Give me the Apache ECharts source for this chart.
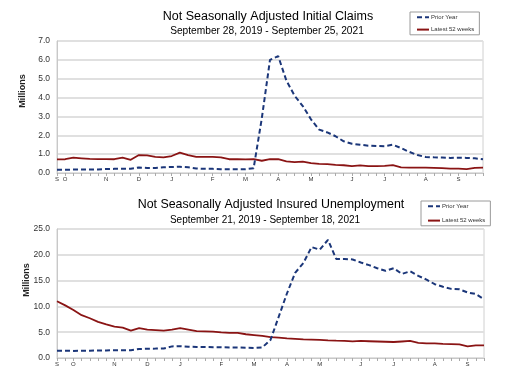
<!DOCTYPE html>
<html>
<head>
<meta charset="utf-8">
<script src="https://cdn.jsdelivr.net/npm/echarts@6/dist/echarts.min.js"></script>
<style>
html,body{margin:0;padding:0;background:#fff;}
#c{width:512px;height:386px;}
</style>
</head>
<body>
<div id="c"></div>
<script>
// ---- Data ----
// Initial claims (millions), 53 weekly points
var claimsPriorYear = [0.17,0.17,0.18,0.18,0.18,0.19,0.21,0.22,0.22,0.22,0.29,0.27,0.27,0.30,0.32,0.33,0.30,0.24,0.22,0.22,0.20,0.20,0.20,0.20,0.25,2.90,6.00,6.20,4.90,4.10,3.55,2.85,2.30,2.15,1.95,1.68,1.55,1.50,1.45,1.43,1.42,1.50,1.32,1.12,0.95,0.85,0.83,0.82,0.80,0.81,0.80,0.78,0.73];
var claimsLatest = [0.72,0.73,0.81,0.78,0.75,0.74,0.74,0.73,0.81,0.70,0.95,0.93,0.86,0.83,0.90,1.08,0.95,0.86,0.86,0.86,0.83,0.73,0.73,0.72,0.73,0.65,0.73,0.73,0.62,0.58,0.60,0.52,0.48,0.47,0.43,0.41,0.36,0.40,0.36,0.36,0.38,0.42,0.30,0.29,0.29,0.28,0.27,0.26,0.23,0.23,0.21,0.27,0.28];
// Insured unemployment (millions), 53 weekly points
var insuredPriorYear = [1.40,1.40,1.38,1.40,1.42,1.45,1.47,1.50,1.50,1.50,1.75,1.80,1.82,1.85,2.25,2.30,2.20,2.15,2.15,2.10,2.10,2.05,2.05,2.00,1.95,2.05,3.50,8.00,12.50,16.50,18.40,21.50,21.00,22.90,19.20,19.20,19.10,18.50,18.00,17.40,16.90,17.40,16.30,16.80,15.90,15.20,14.30,13.80,13.40,13.30,12.70,12.40,11.40];
var insuredLatest = [11.0,10.2,9.3,8.3,7.7,7.0,6.5,6.1,5.9,5.3,5.8,5.5,5.4,5.3,5.5,5.8,5.5,5.2,5.15,5.1,4.95,4.85,4.85,4.6,4.45,4.3,4.05,3.95,3.8,3.7,3.6,3.55,3.5,3.42,3.35,3.3,3.22,3.3,3.25,3.2,3.15,3.1,3.2,3.3,2.95,2.85,2.85,2.75,2.7,2.65,2.25,2.45,2.45];

// Categories (week ending dates)
function weeks(startY, startM, startD, n){
  var out = [];
  for (var i=0;i<n;i++){
    var d = new Date(Date.UTC(startY, startM-1, startD + 7*i));
    out.push(d.toISOString().slice(0,10));
  }
  return out;
}
var claimsWeeks = weeks(2019, 9, 28, 53);
var insuredWeeks = weeks(2019, 9, 21, 53);

// Tick labels
var monthLetters = ['S','O','N','D','J','F','M','A','M','J','J','A','S'];
var claimsLabelIdx = [0,1,6,10,14,19,23,27,31,36,40,45,49];
var insuredLabelIdx = [0,2,7,11,15,20,24,28,32,37,41,46,50];

var titles = {
  t1: 'Not Seasonally Adjusted Initial Claims',
  s1: 'September 28, 2019 - September 25, 2021',
  t2: 'Not Seasonally Adjusted Insured Unemployment',
  s2: 'September 21, 2019 - September 18, 2021'
};
var seriesNames = ['Prior Year', 'Latest 52 weeks'];

// ---- Chart ----
var FONT = 'Liberation Sans, Arial, sans-serif';
var BLUE = '#1b3679';
var RED = '#8a1414';

function labelFormatter(idxs){
  return function(value, index){
    var k = idxs.indexOf(index);
    return k >= 0 ? monthLetters[k] : '';
  };
}

function xAxisCfg(gridIndex, cats, idxs){
  return {
    type: 'category', gridIndex: gridIndex, data: cats, boundaryGap: false,
    axisLine: {show: true, lineStyle: {color: '#c8c8c8', width: 1}},
    axisTick: {show: true, interval: 0, length: 3, lineStyle: {color: '#aaa'}},
    axisLabel: {interval: 0, formatter: labelFormatter(idxs), fontSize: 6, color: '#333', margin: 3, fontFamily: FONT},
    splitLine: {show: false}
  };
}
function yAxisCfg(gridIndex, max, interval){
  return {
    type: 'value', gridIndex: gridIndex, min: 0, max: max, interval: interval,
    axisLine: {show: true, lineStyle: {color: '#c8c8c8', width: 1}},
    axisTick: {show: false},
    axisLabel: {formatter: function(v){ return v.toFixed(1); }, fontSize: 8.5, color: '#333', margin: 7, fontFamily: FONT},
    splitLine: {show: true, lineStyle: {color: '#e0e0e0', width: 2}}
  };
}
function legendCfg(left, top, gap){
  return {
    data: seriesNames, left: left, top: top, orient: 'vertical',
    itemWidth: 12, itemHeight: 8, itemGap: gap,
    padding: [2, 5, 2, 6],
    borderColor: '#9a9a9a', borderWidth: 1, backgroundColor: '#fff',
    itemStyle: {opacity: 0},
    textStyle: {fontSize: 6, color: '#333', fontFamily: FONT, padding: [0,0,0,-3]},
    selectedMode: false
  };
}
function textEl(text, x, y, size){
  return {type: 'text', x: x, y: y, style: {text: text, fontSize: size, fontFamily: FONT, fill: '#000', align: 'center', verticalAlign: 'middle'}};
}
function millions(x, y){
  return {type: 'text', x: x, y: y, rotation: Math.PI/2,
    style: {text: 'Millions', fontSize: 9, fontWeight: 'bold', fontFamily: FONT, fill: '#222', align: 'center', verticalAlign: 'middle'}};
}

var chart = echarts.init(document.getElementById('c'), null, {renderer: 'canvas'});
chart.setOption({
  animation: false,
  backgroundColor: '#fff',
  grid: [
    {left: 57, right: 29, top: 41, height: 132, show: true, borderColor: '#d0d0d0', borderWidth: 1, backgroundColor: 'transparent'},
    {left: 57, right: 28, top: 229, height: 129, show: true, borderColor: '#d0d0d0', borderWidth: 1, backgroundColor: 'transparent'}
  ],
  xAxis: [xAxisCfg(0, claimsWeeks, claimsLabelIdx), xAxisCfg(1, insuredWeeks, insuredLabelIdx)],
  yAxis: [yAxisCfg(0, 7, 1), yAxisCfg(1, 25, 5)],
  legend: [legendCfg(410, 12, 6), legendCfg(421, 201, 8)],
  graphic: [
    textEl(titles.t1, 268, 17, 12.5),
    textEl(titles.s1, 267, 31, 10.2),
    textEl(titles.t2, 271, 205, 12.4),
    textEl(titles.s2, 265, 220, 10),
    millions(23, 91),
    millions(27, 280)
  ],
  series: [
    {name: seriesNames[0], type: 'line', xAxisIndex: 0, yAxisIndex: 0, data: claimsPriorYear, symbol: 'none',
      lineStyle: {color: BLUE, width: 2, type: [5, 3]}, itemStyle: {color: BLUE}, z: 3},
    {name: seriesNames[1], type: 'line', xAxisIndex: 0, yAxisIndex: 0, data: claimsLatest, symbol: 'none',
      lineStyle: {color: RED, width: 1.8}, itemStyle: {color: RED}, z: 2},
    {name: seriesNames[0], type: 'line', xAxisIndex: 1, yAxisIndex: 1, data: insuredPriorYear, symbol: 'none',
      lineStyle: {color: BLUE, width: 2, type: [5, 3]}, itemStyle: {color: BLUE}, z: 3},
    {name: seriesNames[1], type: 'line', xAxisIndex: 1, yAxisIndex: 1, data: insuredLatest, symbol: 'none',
      lineStyle: {color: RED, width: 1.8}, itemStyle: {color: RED}, z: 2}
  ]
});
</script>
</body>
</html>
